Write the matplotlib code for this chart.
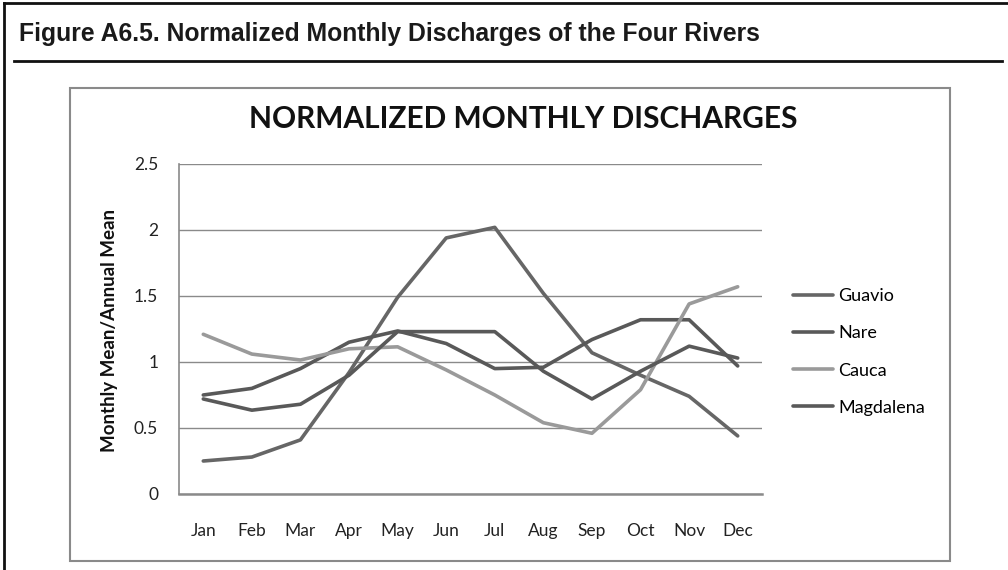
"""Normalized monthly discharges of the four rivers (figure A6.5)."""

import matplotlib

matplotlib.use("Agg")
import matplotlib.pyplot as plt
import matplotlib.patches as mpatches
from matplotlib.lines import Line2D

months = ["Jan", "Feb", "Mar", "Apr", "May", "Jun",
          "Jul", "Aug", "Sep", "Oct", "Nov", "Dec"]

guavio = [0.25, 0.28, 0.41, 0.92, 1.49, 1.94, 2.02, 1.52, 1.07, 0.90, 0.74, 0.44]
nare = [0.75, 0.80, 0.95, 1.15, 1.235, 1.14, 0.95, 0.96, 1.17, 1.32, 1.32, 0.97]
cauca = [1.21, 1.06, 1.015, 1.10, 1.115, 0.94, 0.75, 0.54, 0.46, 0.79, 1.44, 1.57]
magdalena = [0.72, 0.635, 0.68, 0.90, 1.23, 1.23, 1.23, 0.93, 0.72, 0.93, 1.12, 1.03]

series_names = ["Guavio", "Nare", "Cauca", "Magdalena"]
series_values = [guavio, nare, cauca, magdalena]
series_colors = ["#666666", "#595959", "#9a9a9a", "#595959"]

y_ticks = [0, 0.5, 1, 1.5, 2, 2.5]
y_tick_labels = ["0", "0.5", "1", "1.5", "2", "2.5"]

W, H = 1008, 570
FONT = "Lato"

fig = plt.figure(figsize=(W / 100, H / 100), dpi=100, facecolor="white")

# outer document frame
fig.add_artist(Line2D([4 / W, 1.0], [1 - 3 / H, 1 - 3 / H], color="#111111",
                      linewidth=2, transform=fig.transFigure))
fig.add_artist(Line2D([4 / W, 4 / W], [0, 1 - 3 / H], color="#111111",
                      linewidth=2, transform=fig.transFigure))
fig.add_artist(Line2D([14 / W, 1002 / W], [1 - 61 / H, 1 - 61 / H], color="#111111",
                      linewidth=2, transform=fig.transFigure))
fig.text(19 / W, 1 - 34 / H, "Figure A6.5. Normalized Monthly Discharges of the Four Rivers",
         fontsize=17.8, fontweight="bold", family="Liberation Sans", color="#1a1a1a",
         va="center", ha="left")

# chart area box
box = mpatches.Rectangle((70 / W, 1 - 561 / H), 880 / W, 473 / H, fill=False,
                         edgecolor="#8a8a8a", linewidth=1.5, transform=fig.transFigure)
fig.add_artist(box)

ax = fig.add_axes([179 / W, 1 - 494 / H, 583 / W, 330 / H])
x = list(range(len(months)))
for name, vals, col in zip(series_names, series_values, series_colors):
    ax.plot(x, vals, color=col, linewidth=2.6, label=name, solid_capstyle="round")

ax.set_xlim(-0.5, len(months) - 0.5)
ax.set_ylim(0, 2.5)
ax.set_yticks(y_ticks)
ax.set_yticklabels(y_tick_labels)
ax.set_xticks(x)
ax.set_xticklabels(months)
ax.grid(axis="y", color="#8a8a8a", linewidth=1)
ax.set_axisbelow(True)
for side in ["top", "right"]:
    ax.spines[side].set_visible(False)
ax.spines["left"].set_color("#8a8a8a")
ax.spines["bottom"].set_color("#8a8a8a")
ax.spines["left"].set_linewidth(1.2)
ax.spines["bottom"].set_linewidth(1.8)
ax.tick_params(axis="both", length=0, labelsize=12.5, labelcolor="#222222")
ax.tick_params(axis="y", pad=15)
ax.tick_params(axis="x", pad=21)
for lbl in ax.get_xticklabels() + ax.get_yticklabels():
    lbl.set_family(FONT)

fig.text(523 / W, 1 - 119 / H, "NORMALIZED MONTHLY DISCHARGES", fontsize=21.5,
         fontweight="bold", family=FONT, color="#111111", ha="center", va="center")
fig.text(109 / W, 1 - 330 / H, "Monthly Mean/Annual Mean", rotation=90, fontsize=13.5,
         fontweight="bold", family=FONT, color="#111111", ha="center", va="center")

ax.legend(loc="center left", bbox_to_anchor=(793 / W, 1 - 352 / H),
          bbox_transform=fig.transFigure, frameon=False, borderpad=0,
          borderaxespad=0, handlelength=2.2, handletextpad=0.3, labelspacing=1.17,
          prop={"family": FONT, "size": 13})

fig.savefig("out.png", dpi=100, facecolor="white")
